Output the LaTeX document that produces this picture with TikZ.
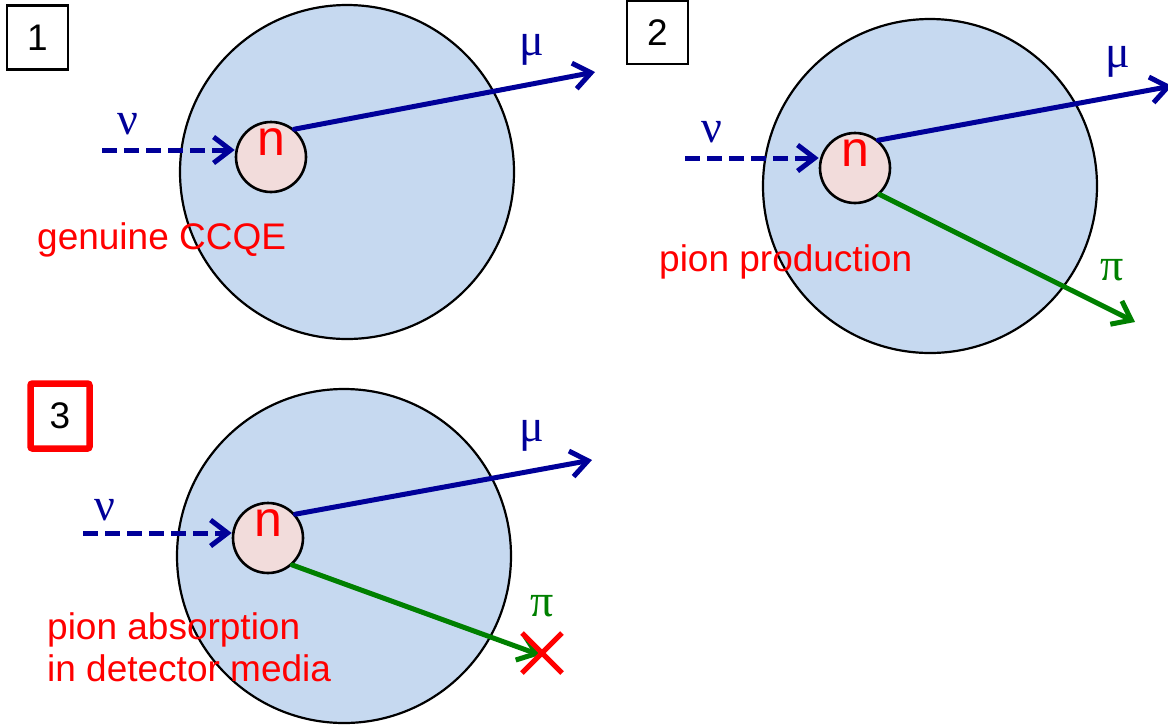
\documentclass[tikz,border=0pt]{standalone}
\usepackage{fontspec}
\setmainfont{Liberation Sans}
\newfontfamily\grk{Liberation Serif}
\usetikzlibrary{arrows.meta,calc}
\definecolor{nucl}{RGB}{198,217,240}
\definecolor{neut}{RGB}{242,220,219}
\definecolor{lepton}{RGB}{0,0,153}
\definecolor{pion}{RGB}{0,128,0}
\begin{document}
\begin{tikzpicture}[x=1pt,y=-1pt,
  nucleus/.style={circle,draw=black,line width=2.2pt,fill=nucl,minimum size=334pt,inner sep=0pt},
  nucleon/.style={circle,draw=black,line width=2.6pt,fill=neut,minimum size=70pt,inner sep=0pt,text=red,
    font=\fontsize{50}{50}\selectfont,text height=27pt,text depth=30pt},
  numbox/.style={draw=black,line width=2.2pt,minimum width=61pt,minimum height=64pt,inner sep=0pt,font=\fontsize{37}{37}\selectfont},
  redbox/.style={draw=red,line width=6.5pt,rounded corners=2pt,minimum width=59pt,minimum height=65pt,inner sep=0pt,font=\fontsize{37}{37}\selectfont},
  ptcl/.style={line width=5pt,line cap=round,line join=round,-{Straight Barb[length=17pt,width=26pt]}},
  nuarrow/.style={ptcl,draw=lepton,dash pattern=on 15pt off 7pt,line cap=butt},
  muarrow/.style={ptcl,draw=lepton},
  piarrow/.style={ptcl,draw=pion},
  glabel/.style={font=\grk\fontsize{46}{46}\selectfont,inner sep=0pt},
  caption/.style={text=red,font=\fontsize{37}{42}\selectfont,inner sep=0pt,anchor=west,align=left}]
\clip (0,0) rectangle (1168,724);
\useasboundingbox (0,0) rectangle (1168,724);
% panel 1
\node[numbox] (b1) at (37.5,37.5) {1};
\node[nucleus] (c1) at (347,172) {};
\node[nucleon] (n1) at (271,157) {n};
\coordinate (s1) at (102,150);
\coordinate (m1) at (595,72);
\draw[nuarrow] (s1) -- (n1.west |- s1);
\draw[muarrow] (n1.50) -- (m1);
\node[glabel,text=lepton] (nu1) at (128,124) {ν};
\node[glabel,text=lepton] (mu1) at (532,50) {μ};
\node[caption] (t1) at (37,240) {genuine CCQE};
% panel 2
\node[numbox,minimum height=63pt] (b2) at (657.5,32.5) {2};
\node[nucleus] (c2) at (930,186) {};
\node[nucleon] (n2) at (855,168) {n};
\coordinate (s2) at (685,158);
\coordinate (m2) at (1172,86);
\coordinate (p2) at (1135,322);
\draw[nuarrow] (s2) -- (n2.west |- s2);
\draw[muarrow] (n2.50) -- (m2);
\draw[piarrow] (n2.-47) -- (p2);
\node[glabel,text=lepton] (nu2) at (712,132) {ν};
\node[glabel,text=lepton] (mu2) at (1118,62) {μ};
\node[glabel,text=pion] (pi2) at (1112,270) {π};
\node[caption] (t2) at (659,262) {pion production};
% panel 3
\node[redbox] (b3) at (60,416) {3};
\node[nucleus] (c3) at (344,556) {};
\node[nucleon] (n3) at (268,538) {n};
\coordinate (s3) at (83,533);
\coordinate (m3) at (592,460);
\coordinate (p3) at (540,655);
\draw[nuarrow] (s3) -- (n3.west |- s3);
\draw[muarrow] (n3.41) -- (m3);
\draw[piarrow] (n3.-48) -- (p3);
\node[glabel,text=lepton] (nu3) at (105,510) {ν};
\node[glabel,text=lepton] (mu3) at (532,436) {μ};
\node[glabel,text=pion] (pi3) at (542,606) {π};
\coordinate (x3) at (542,653);
\draw[red,line width=5pt] ($(x3)+(-20,-20)$) -- ($(x3)+(20,20)$) ($(x3)+(20,-20)$) -- ($(x3)+(-20,20)$);
\node[caption] (t3) at (47,647) {pion absorption\\in detector media};
\end{tikzpicture}
\end{document}
